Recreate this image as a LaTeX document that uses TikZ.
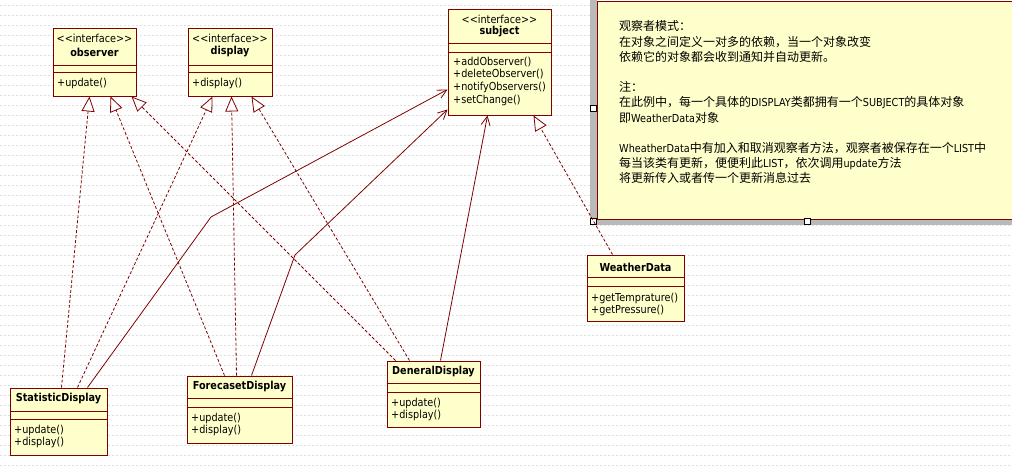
\documentclass[tikz,border=0pt]{standalone}
\usepackage{fontspec}
\newfontfamily\umlfont[FakeStretch=0.88]{DejaVu Sans}
\newfontfamily\cjkfont{Noto Sans CJK SC}
\usetikzlibrary{calc,arrows.meta,patterns}
\definecolor{umlred}{RGB}{128,0,0}
\definecolor{umlfill}{RGB}{255,255,204}
\newcommand{\lat}[1]{{\umlfont\fontsize{11}{15.2}\selectfont #1}}

\begin{document}
\begin{tikzpicture}[x=1pt,y=-1pt,
    classbox/.style={draw=umlred,fill=umlfill,line width=1pt,inner sep=0pt},
    divider/.style={draw=umlred,line width=1pt},
    stereo/.style={font=\umlfont\fontsize{11}{13}\selectfont,inner sep=0pt},
    clsname/.style={font=\umlfont\bfseries\fontsize{11}{13}\selectfont,inner sep=0pt},
    ops/.style={font=\umlfont\fontsize{11}{12.7}\selectfont,inner sep=0pt,align=left,anchor=north west},
    realize/.style={draw=umlred,line width=0.8pt,dash pattern=on 3pt off 2pt,-{Triangle[length=15pt,width=13pt,fill=white]}},
    assoc/.style={draw=umlred,line width=0.8pt,-{Straight Barb[length=9pt,width=9pt]}},
    gridline/.style={gray!25,line width=0.6pt,dash pattern=on 2pt off 2pt},
    notebox/.style={draw=umlred,fill=umlfill,line width=1pt,inner sep=0pt,anchor=north west},
    notetext/.style={font=\cjkfont\fontsize{12}{15.2}\selectfont,inner sep=0pt,align=left,anchor=north west},
    handle/.style={draw=black,fill=white,line width=0.6pt}]
\useasboundingbox[fill=white] (0,0) rectangle (1012,471);
% background grid
\foreach \y in {5,15,...,465}
  \draw[gridline] (0,\y) -- (1012,\y);

% note with selection frame
\fill[gray!55] (590,0) rectangle (597,225);
\fill[gray!55] (590,218) rectangle (1012,225);
\node[notebox,minimum width=430pt,minimum height=218pt] (note) at (597,0.5) {};
\draw[handle] (590,105) rectangle (596,111);
\draw[handle] (590,218) rectangle (596,224);
\draw[handle] (804,218) rectangle (810,224);
\node[notetext] (notetxt) at (619,20.5) {观察者模式：\\
在对象之间定义一对多的依赖，当一个对象改变\\
依赖它的对象都会收到通知并自动更新。\\[15.2pt]
注：\\
在此例中，每一个具体的\lat{DISPLAY}类都拥有一个\lat{SUBJECT}的具体对象\\
即\lat{WeatherData}对象\\[15.2pt]
\lat{WheatherData}中有加入和取消观察者方法，观察者被保存在一个\lat{LIST}中\\
每当该类有更新，便便利此\lat{LIST}，依次调用\lat{update}方法\\
将更新传入或者传一个更新消息过去};

% interfaces
\node[classbox,minimum width=83pt,minimum height=68pt] (observer) at (94.5,62) {};
\draw[divider] (observer.west |- 0,65) -- (observer.east |- 0,65);
\draw[divider] (observer.west |- 0,72) -- (observer.east |- 0,72);
\node[stereo] (observer-st) at (observer.north |- 0,38) {<<interface>>};
\node[clsname] (observer-nm) at (observer.north |- 0,52) {observer};
\node[ops] (observer-op) at (57,77.6) {+update()};

\node[classbox,minimum width=84pt,minimum height=68pt] (display) at (230,62) {};
\draw[divider] (display.west |- 0,65) -- (display.east |- 0,65);
\draw[divider] (display.west |- 0,72) -- (display.east |- 0,72);
\node[stereo] (display-st) at (display.north |- 0,38) {<<interface>>};
\node[clsname] (display-nm) at (display.north |- 0,52) {display};
\node[ops] (display-op) at (192,77.6) {+display()};

\node[classbox,minimum width=103pt,minimum height=106pt] (subject) at (499.5,62) {};
\draw[divider] (subject.west |- 0,43) -- (subject.east |- 0,43);
\draw[divider] (subject.west |- 0,52) -- (subject.east |- 0,52);
\node[stereo] (subject-st) at (subject.north |- 0,19) {<<interface>>};
\node[clsname] (subject-nm) at (subject.north |- 0,32) {subject};
\node[ops] (subject-op) at (453,56.6) {+addObserver()\\+deleteObserver()\\+notifyObservers()\\+setChange()};

% classes
\node[classbox,minimum width=97pt,minimum height=66pt] (weather) at (635.5,288) {};
\draw[divider] (weather.west |- 0,277) -- (weather.east |- 0,277);
\draw[divider] (weather.west |- 0,286) -- (weather.east |- 0,286);
\node[clsname] (weather-nm) at (weather.north |- 0,267) {WeatherData};
\node[ops] (weather-op) at (591,292.6) {+getTemprature()\\+getPressure()};

\node[classbox,minimum width=97pt,minimum height=67pt] (stat) at (58.5,421.5) {};
\draw[divider] (stat.west |- 0,411) -- (stat.east |- 0,411);
\draw[divider] (stat.west |- 0,419) -- (stat.east |- 0,419);
\node[clsname] (stat-nm) at (stat.north |- 0,399) {StatisticDisplay};
\node[ops] (stat-op) at (14,424.6) {+update()\\+display()};

\node[classbox,minimum width=105pt,minimum height=67pt] (forecast) at (239.5,409.5) {};
\draw[divider] (forecast.west |- 0,398) -- (forecast.east |- 0,398);
\draw[divider] (forecast.west |- 0,407) -- (forecast.east |- 0,407);
\node[clsname] (forecast-nm) at (forecast.north |- 0,387) {ForecasetDisplay};
\node[ops] (forecast-op) at (191,412.6) {+update()\\+display()};

\node[classbox,minimum width=93pt,minimum height=66pt] (deneral) at (433.5,394) {};
\draw[divider] (deneral.west |- 0,383) -- (deneral.east |- 0,383);
\draw[divider] (deneral.west |- 0,392) -- (deneral.east |- 0,392);
\node[clsname] (deneral-nm) at (deneral.north |- 0,372) {DeneralDisplay};
\node[ops] (deneral-op) at (391,397.6) {+update()\\+display()};

% realizations
\draw[realize] ($(stat.north west)+(52,0)$) -- ($(observer.south west)+(37,0)$);
\draw[realize] ($(forecast.north west)+(38,0)$) -- ($(observer.south west)+(58,0)$);
\draw[realize] ($(deneral.north west)+(9,0)$) -- ($(observer.south west)+(79,0)$);
\draw[realize] ($(stat.north west)+(68,0)$) -- ($(display.south west)+(25,0)$);
\draw[realize] ($(forecast.north west)+(50,0)$) -- ($(display.south west)+(44,0)$);
\draw[realize] ($(deneral.north west)+(23,0)$) -- ($(display.south west)+(64,0)$);
\draw[realize] ($(weather.north west)+(26,0)$) -- ($(subject.south west)+(86,0)$);

% associations
\coordinate (bendS) at (211,217);
\coordinate (bendF) at (295,255);
\draw[assoc] ($(stat.north west)+(78,0)$) -- (bendS) -- ($(subject.north west)+(0,81)$);
\draw[assoc] ($(forecast.north west)+(65,0)$) -- (bendF) -- ($(subject.north west)+(0,101)$);
\draw[assoc] ($(deneral.north west)+(54,0)$) -- ($(subject.south west)+(40,0)$);
\end{tikzpicture}
\end{document}
